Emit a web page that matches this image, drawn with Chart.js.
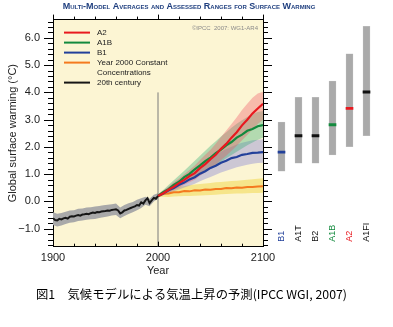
<!DOCTYPE html>
<html>
<head>
<meta charset="utf-8">
<script src="https://cdn.jsdelivr.net/npm/chart.js@4.4.1/dist/chart.umd.min.js"></script>
<style>
  html, body { margin: 0; padding: 0; background: #fff; }
  #wrap { position: relative; width: 393px; height: 327px; overflow: hidden; }
  #main { position: absolute; left: 0; top: 0; }
  #bars { position: absolute; left: 263px; top: 0; }
</style>
</head>
<body>
<div id="wrap">
  <canvas id="main" width="393" height="327"></canvas>
  <canvas id="bars" width="130" height="327"></canvas>
</div>
<script>
// ---------------- data ----------------
const histYears = [1900,1902,1904,1906,1908,1910,1912,1914,1916,1918,1920,1922,1924,1926,1928,1930,1932,1934,1936,1938,1940,1942,1944,1946,1948,1950,1952,1954,1956,1958,1960,1962,1964,1966,1968,1970,1972,1974,1976,1978,1980,1982,1984,1986,1988,1990,1992,1994,1996,1998,2000];
const histMean = [-0.62,-0.68,-0.70,-0.64,-0.66,-0.62,-0.60,-0.63,-0.56,-0.54,-0.55,-0.52,-0.50,-0.52,-0.48,-0.47,-0.45,-0.47,-0.43,-0.41,-0.42,-0.39,-0.40,-0.37,-0.36,-0.35,-0.33,-0.34,-0.31,-0.30,-0.29,-0.33,-0.44,-0.40,-0.33,-0.31,-0.27,-0.24,-0.21,-0.18,-0.13,-0.15,-0.03,-0.08,0.04,0.12,-0.06,0.04,0.13,0.10,0.20];

const histBandYears = [1900,1904,1908,1912,1916,1920,1924,1928,1932,1936,1940,1944,1948,1952,1956,1960,1964,1968,1972,1976,1980,1984,1988,1992,1996,2000];
const histUpper = [-0.40,-0.45,-0.42,-0.38,-0.33,-0.32,-0.27,-0.26,-0.22,-0.21,-0.19,-0.17,-0.14,-0.12,-0.10,-0.08,-0.22,-0.13,-0.07,-0.02,0.06,0.12,0.17,0.10,0.25,0.30];
const histLower = [-0.86,-0.92,-0.88,-0.83,-0.78,-0.76,-0.72,-0.70,-0.67,-0.65,-0.64,-0.61,-0.58,-0.55,-0.52,-0.50,-0.62,-0.53,-0.46,-0.40,-0.32,-0.24,-0.12,-0.18,0.00,0.10];

const projYears = [2000,2005,2010,2015,2020,2025,2030,2035,2040,2045,2050,2055,2060,2065,2070,2075,2080,2085,2090,2095,2100];
const a2Mean    = [0.20,0.30,0.43,0.54,0.67,0.79,0.93,1.04,1.22,1.37,1.55,1.71,1.93,2.11,2.34,2.54,2.79,3.00,3.23,3.41,3.58];
const a2Upper   = [0.26,0.40,0.54,0.70,0.84,1.00,1.15,1.32,1.52,1.71,1.90,2.12,2.36,2.60,2.84,3.09,3.35,3.58,3.80,3.96,4.02];
const a2Lower   = [0.14,0.24,0.32,0.42,0.50,0.61,0.70,0.80,0.94,1.07,1.20,1.35,1.52,1.68,1.86,2.04,2.24,2.44,2.64,2.84,3.00];
const a1bMean   = [0.20,0.34,0.45,0.61,0.72,0.89,1.01,1.18,1.32,1.48,1.61,1.77,1.90,2.06,2.18,2.34,2.45,2.59,2.66,2.76,2.80];
const a1bUpper  = [0.26,0.42,0.60,0.78,0.95,1.13,1.31,1.49,1.68,1.86,2.04,2.21,2.38,2.54,2.70,2.85,2.98,3.10,3.20,3.28,3.32];
const a1bLower  = [0.14,0.25,0.35,0.45,0.55,0.66,0.77,0.88,1.00,1.11,1.22,1.34,1.46,1.58,1.70,1.82,1.94,2.06,2.16,2.26,2.34];
const b1Mean    = [0.20,0.29,0.41,0.49,0.61,0.69,0.81,0.89,1.02,1.11,1.23,1.31,1.42,1.49,1.59,1.63,1.71,1.74,1.78,1.79,1.81];
const b1Upper   = [0.25,0.38,0.52,0.66,0.79,0.92,1.05,1.18,1.32,1.45,1.57,1.70,1.82,1.92,2.01,2.09,2.15,2.20,2.24,2.26,2.28];
const b1Lower   = [0.15,0.23,0.30,0.37,0.44,0.51,0.58,0.65,0.74,0.82,0.90,0.98,1.06,1.13,1.19,1.25,1.30,1.35,1.38,1.41,1.42];
const commitMean  = [0.20,0.28,0.29,0.34,0.34,0.38,0.37,0.41,0.40,0.44,0.43,0.46,0.46,0.49,0.48,0.51,0.50,0.53,0.53,0.55,0.56];
const commitUpper = [0.25,0.37,0.45,0.50,0.54,0.57,0.59,0.62,0.64,0.66,0.68,0.70,0.71,0.73,0.75,0.76,0.78,0.80,0.81,0.83,0.85];
const commitLower = [0.15,0.17,0.16,0.18,0.19,0.20,0.20,0.21,0.22,0.23,0.24,0.25,0.26,0.27,0.28,0.29,0.29,0.30,0.31,0.31,0.32];

// likely ranges at 2090-2099 for the six marker scenarios
const scenarioNames  = ['B1','A1T','B2','A1B','A2','A1FI'];
const scenarioLow    = [1.1,1.4,1.4,1.7,2.0,2.4];
const scenarioHigh   = [2.9,3.8,3.8,4.4,5.4,6.4];
const scenarioBest   = [1.8,2.4,2.4,2.8,3.4,4.0];

const xTickLabels = [1900,2000,2100];
const yTickLabels = [-1,0,1,2,3,4,5,6];
const commitYear = 2000;      // start of the projections
const commitLineTop = 4.0;    // top end of the 2000 divider

// ---------------- style ----------------
const Y_MIN = -1.66, Y_MAX = 6.67;
const FONT = '"Liberation Sans", Arial, Helvetica, sans-serif';
const C = {
  a2: '#e8191f', a1b: '#138a3e', b1: '#22409a', commit: '#f47a1f', hist: '#161616',
  a2Band: 'rgba(238,85,100,0.36)', a1bBand: 'rgba(50,172,115,0.36)', b1Band: 'rgba(110,110,215,0.34)',
  commitBand: 'rgba(240,210,50,0.45)', histBand: '#a9a9a9'
};
const scenarioColors = ['#22409a','#111111','#111111','#138a3e','#e8191f','#111111'];

const pts = (xs, ys) => xs.map((x, i) => ({x, y: ys[i]}));
const band = (label, xs, up, lo, color, order) => [
  {label: label + ' upper', data: pts(xs, up), borderWidth: 0, pointRadius: 0, backgroundColor: color, fill: '+1', order},
  {label: label + ' lower', data: pts(xs, lo), borderWidth: 0, pointRadius: 0, fill: false, order}
];
const line = (label, xs, ys, color, order, w) => ({
  label, data: pts(xs, ys), borderColor: color, borderWidth: w || 2, pointRadius: 0, fill: false, order, tension: 0
});

const legendEntries = [
  {lines: ['A2'], color: C.a2},
  {lines: ['A1B'], color: C.a1b},
  {lines: ['B1'], color: C.b1},
  {lines: ['Year 2000 Constant', 'Concentrations'], color: C.commit},
  {lines: ['20th century'], color: C.hist}
];

// background, tick marks, legend and annotation texts
const frameDecor = {
  id: 'frameDecor',
  beforeDraw(chart) {
    const {ctx, chartArea: a} = chart;
    ctx.save();
    ctx.fillStyle = '#fcf5d3';
    ctx.fillRect(a.left, a.top, a.right - a.left, a.bottom - a.top);
    ctx.restore();
  },
  afterDraw(chart) {
    const {ctx, chartArea: a, scales} = chart;
    const ys = scales.y, xs = scales.x;
    ctx.save();
    ctx.strokeStyle = '#000';
    ctx.lineWidth = 1;
    ctx.beginPath();
    for (let k = -8; k <= 33; k++) {
      const v = k / 5;
      if (v < Y_MIN || v > Y_MAX) continue;
      const py = Math.round(ys.getPixelForValue(v)) + 0.5;
      const len = (k % 5 === 0) ? 9 : 5;
      ctx.moveTo(a.left - len, py); ctx.lineTo(a.left, py);
      ctx.moveTo(a.right, py); ctx.lineTo(a.right + len, py);
    }
    for (let yr = 1900; yr <= 2100; yr += 20) {
      const px = Math.round(xs.getPixelForValue(yr)) + 0.5;
      const len = (yr % 100 === 0) ? 5 : 3;
      ctx.moveTo(px, a.top - len); ctx.lineTo(px, a.top);
      ctx.moveTo(px, a.bottom - len); ctx.lineTo(px, a.bottom);
    }
    ctx.stroke();

    // legend
    ctx.font = '8px ' + FONT;
    ctx.textBaseline = 'middle';
    ctx.textAlign = 'left';
    let ly = a.top + 13;
    legendEntries.forEach(e => {
      ctx.strokeStyle = e.color;
      ctx.lineWidth = 2;
      ctx.beginPath();
      ctx.moveTo(a.left + 11, ly); ctx.lineTo(a.left + 37, ly);
      ctx.stroke();
      ctx.fillStyle = '#222';
      e.lines.forEach((t, j) => ctx.fillText(t, a.left + 44, ly + j * 10));
      ly += 10 * e.lines.length;
    });

    // credit
    ctx.font = '6px ' + FONT;
    ctx.fillStyle = '#8a8a8a';
    ctx.textAlign = 'right';
    ctx.fillText('\u00A9IPCC  2007: WG1-AR4', a.right - 5, a.top + 9);

    // heading
    ctx.font = 'small-caps bold 9px ' + FONT;
    ctx.fillStyle = '#1f3f7f';
    ctx.textAlign = 'center';
    ctx.fillText('Multi-Model Averages and Assessed Ranges for Surface Warming', 189, 7);

    // caption, stretched to its 311px line width
    const caption = '図1\u3000気候モデルによる気温上昇の予測(IPCC WGI, 2007)';
    ctx.font = '12px "Noto Sans CJK JP", sans-serif';
    ctx.fillStyle = '#000';
    ctx.textAlign = 'left';
    const w = ctx.measureText(caption).width;
    ctx.translate(36, 294);
    ctx.scale(311 / w, 1);
    ctx.fillText(caption, 0, 0);
    ctx.restore();
  }
};

new Chart(document.getElementById('main'), {
  type: 'line',
  data: {
    datasets: [
      line('20th century', histYears, histMean, C.hist, 0, 2),
      line('A2', projYears, a2Mean, C.a2, 1, 2.2),
      line('A1B', projYears, a1bMean, C.a1b, 2, 2.2),
      line('B1', projYears, b1Mean, C.b1, 3, 2.2),
      line('Year 2000 Constant Concentrations', projYears, commitMean, C.commit, 4, 2),
      {label: '2000', data: [{x: commitYear, y: Y_MIN}, {x: commitYear, y: commitLineTop}],
       borderColor: '#7a7a7a', borderWidth: 1, pointRadius: 0, fill: false, order: 5},
      ...band('A2', projYears, a2Upper, a2Lower, C.a2Band, 6),
      ...band('A1B', projYears, a1bUpper, a1bLower, C.a1bBand, 7),
      ...band('B1', projYears, b1Upper, b1Lower, C.b1Band, 8),
      ...band('commit', projYears, commitUpper, commitLower, C.commitBand, 9),
      ...band('20th century', histBandYears, histUpper, histLower, C.histBand, 10)
    ]
  },
  options: {
    responsive: false,
    animation: false,
    events: [],
    layout: {padding: 0},
    plugins: {legend: {display: false}, tooltip: {enabled: false}, title: {display: false}},
    scales: {
      x: {
        type: 'linear', position: 'bottom', min: 1900, max: 2100,
        afterBuildTicks: s => { s.ticks = xTickLabels.map(v => ({value: v})); },
        afterFit: s => { s.height = 327 - 246.7; },
        grid: {display: false, drawTicks: false},
        border: {display: true, color: '#000', width: 1},
        ticks: {padding: 5, maxRotation: 0, autoSkip: false, color: '#222', font: {family: FONT, size: 11},
                callback: v => String(v)},
        title: {display: true, text: 'Year', color: '#222', font: {family: FONT, size: 11}, padding: {top: 0, bottom: 49}}
      },
      xTop: {
        type: 'linear', position: 'top', min: 1900, max: 2100,
        afterFit: s => { s.height = 19; },
        grid: {display: false, drawTicks: false},
        border: {display: true, color: '#000', width: 1},
        ticks: {display: false}
      },
      y: {
        type: 'linear', position: 'left', min: Y_MIN, max: Y_MAX,
        afterBuildTicks: s => { s.ticks = yTickLabels.map(v => ({value: v})); },
        afterFit: s => { s.width = 53; },
        grid: {display: false, drawTicks: false},
        border: {display: true, color: '#000', width: 1},
        ticks: {padding: 13, color: '#222', font: {family: FONT, size: 11},
                callback: v => v.toFixed(1).replace('-', '\u2212')},
        title: {display: true, text: 'Global surface warming (\u00B0C)', color: '#222',
                font: {family: FONT, size: 11}, padding: {top: 6, bottom: 0}}
      },
      yRight: {
        type: 'linear', position: 'right', min: Y_MIN, max: Y_MAX,
        afterFit: s => { s.width = 130; },
        grid: {display: false, drawTicks: false},
        border: {display: true, color: '#000', width: 1},
        ticks: {display: false}
      }
    }
  },
  plugins: [frameDecor]
});

// rotated scenario names under the range bars
const scenarioLabels = {
  id: 'scenarioLabels',
  afterDraw(chart) {
    const {ctx, chartArea: a, scales} = chart;
    ctx.save();
    ctx.font = '9px ' + FONT;
    ctx.textAlign = 'left';
    ctx.textBaseline = 'middle';
    scenarioNames.forEach((name, i) => {
      const px = scales.x.getPixelForValue(i);
      ctx.save();
      ctx.translate(px, a.bottom - 5);
      ctx.rotate(-Math.PI / 2);
      ctx.fillStyle = scenarioColors[i];
      ctx.fillText(name, 0, 0);
      ctx.restore();
    });
    ctx.restore();
  }
};

new Chart(document.getElementById('bars'), {
  type: 'bar',
  data: {
    labels: scenarioNames,
    datasets: [
      {label: 'best estimate', data: scenarioBest.map(v => [v - 0.04, v + 0.04]),
       backgroundColor: scenarioColors, barThickness: 7, grouped: false, order: 0},
      {label: 'likely range', data: scenarioLow.map((v, i) => [v, scenarioHigh[i]]),
       backgroundColor: '#aaaaaa', borderColor: '#c4c4c4', borderWidth: 0.5, borderSkipped: false,
       barThickness: 7, grouped: false, order: 1}
    ]
  },
  options: {
    responsive: false,
    animation: false,
    events: [],
    layout: {padding: {left: 10, right: 18, top: 19, bottom: 327 - 246.7}},
    plugins: {legend: {display: false}, tooltip: {enabled: false}},
    scales: {
      x: {display: false},
      y: {display: false, min: Y_MIN, max: Y_MAX}
    }
  },
  plugins: [scenarioLabels]
});
</script>
</body>
</html>
